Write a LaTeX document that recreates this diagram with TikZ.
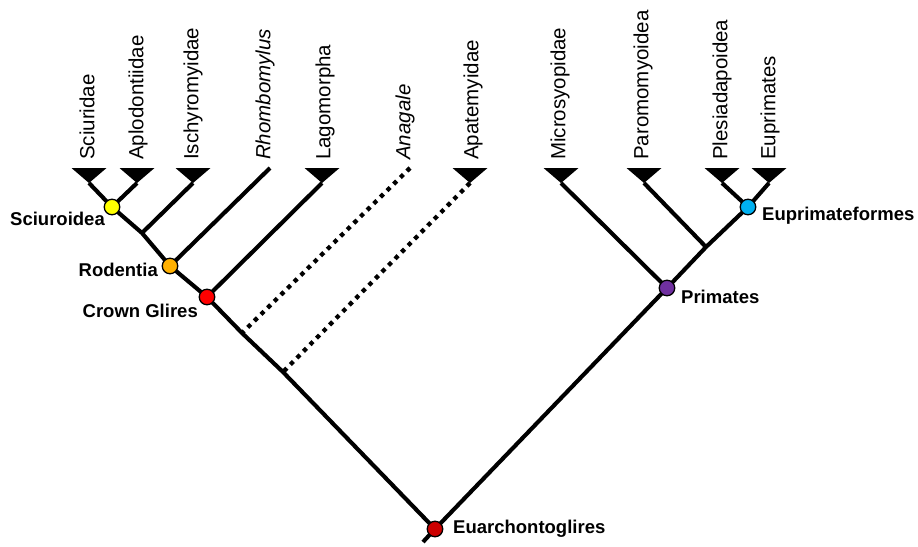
\documentclass[tikz,border=0pt]{standalone}
\usepackage{fontspec}
\setmainfont{Liberation Sans}
\begin{document}
\begin{tikzpicture}[x=1pt, y=-1pt, line join=round,
  branch/.style={line width=4.1pt},
  ghost/.style={line width=4.3pt, dash pattern=on 4.3pt off 5pt},
  tip/.style={fill=black},
  clade/.style={circle, draw=black, line width=1.3pt, minimum size=15.5pt, inner sep=0pt},
  taxon/.style={rotate=90, anchor=west, inner sep=0pt, font=\fontsize{20.5}{24}\selectfont},
  cladename/.style={inner sep=0pt, font=\bfseries\fontsize{18.5}{22}\selectfont}]
\useasboundingbox (0,0) rectangle (918,546);
\definecolor{cyellow}{RGB}{255,255,0}
\definecolor{corange}{RGB}{255,176,0}
\definecolor{cred}{RGB}{255,0,0}
\definecolor{cdarkred}{RGB}{204,0,0}
\definecolor{cpurple}{RGB}{112,48,160}
\definecolor{cblue}{RGB}{0,176,240}

\coordinate (sciu) at (89,183);
\coordinate (aplo) at (137,183);
\coordinate (isch) at (193,183);
\coordinate (rhom) at (270,168);
\coordinate (lago) at (322,183);
\coordinate (anag) at (410,168);
\coordinate (apat) at (470,183);
\coordinate (micr) at (561,183);
\coordinate (paro) at (644,183);
\coordinate (ples) at (722,183);
\coordinate (eupr) at (769,183);

\coordinate (Sciuroidea) at (112,207);
\coordinate (J1) at (142,233);
\coordinate (Rodentia) at (170,266);
\coordinate (Glires) at (207,297);
\coordinate (J2) at (242,333);
\coordinate (J3) at (283,372);
\coordinate (Root) at (435,529);
\coordinate (Base) at (423,542);
\coordinate (Primates) at (667,288);
\coordinate (J4) at (706,247);
\coordinate (Eupf) at (748,207);

\draw[branch] (sciu)--(Sciuroidea)--(J1)--(Rodentia)--(Glires)--(J2)--(J3)--(Root)--(Base);
\draw[branch] (aplo)--(Sciuroidea);
\draw[branch] (isch)--(J1);
\draw[branch] (rhom)--(Rodentia);
\draw[branch] (lago)--(Glires);
\draw[ghost] (anag)--(J2);
\draw[ghost] (apat)--(J3);
\draw[branch] (Root)--(Primates)--(J4)--(Eupf)--(eupr);
\draw[branch] (micr)--(Primates);
\draw[branch] (paro)--(J4);
\draw[branch] (ples)--(Eupf);

\foreach \t in {sciu,aplo,isch,lago,apat,micr,paro,ples,eupr}
  \fill[tip] (\t) -- ++(-17.5,-15) -- ++(35,0) -- cycle;

\node[clade, fill=cyellow] (nSciuroidea) at (Sciuroidea) {};
\node[clade, fill=corange] (nRodentia) at (Rodentia) {};
\node[clade, fill=cred] (nGlires) at (Glires) {};
\node[clade, fill=cdarkred] (nRoot) at (Root) {};
\node[clade, fill=cpurple] (nPrimates) at (Primates) {};
\node[clade, fill=cblue] (nEupf) at (Eupf) {};

\node[cladename, anchor=east] (lSciuroidea) at (105,219) {Sciuroidea};
\node[cladename, anchor=east] (lRodentia) at (158,270) {Rodentia};
\node[cladename, anchor=east] (lGlires) at (198,311) {Crown Glires};
\node[cladename, anchor=west] (lRoot) at (453,529) {Euarchontoglires};
\node[cladename, anchor=west] (lPrimates) at (681,297) {Primates};
\node[cladename, anchor=west] (lEupf) at (762,216) {Euprimateformes};

\node[taxon] (tsciu) at (87,160) {Sciuridae};
\node[taxon] (taplo) at (138,160) {Aplodontiidae};
\node[taxon] (tisch) at (193,160) {Ischyromyidae};
\node[taxon] (trhom) at (265,160) {\itshape Rhombomylus};
\node[taxon] (tlago) at (325,160) {Lagomorpha};
\node[taxon] (tanag) at (405,160) {\itshape Anagale};
\node[taxon] (tapat) at (473,160) {Apatemyidae};
\node[taxon] (tmicr) at (560,160) {Microsyopidae};
\node[taxon] (tparo) at (643,160) {Paromomyoidea};
\node[taxon] (tples) at (722,160) {Plesiadapoidea};
\node[taxon] (teupr) at (770,160) {Euprimates};
\end{tikzpicture}
\end{document}
